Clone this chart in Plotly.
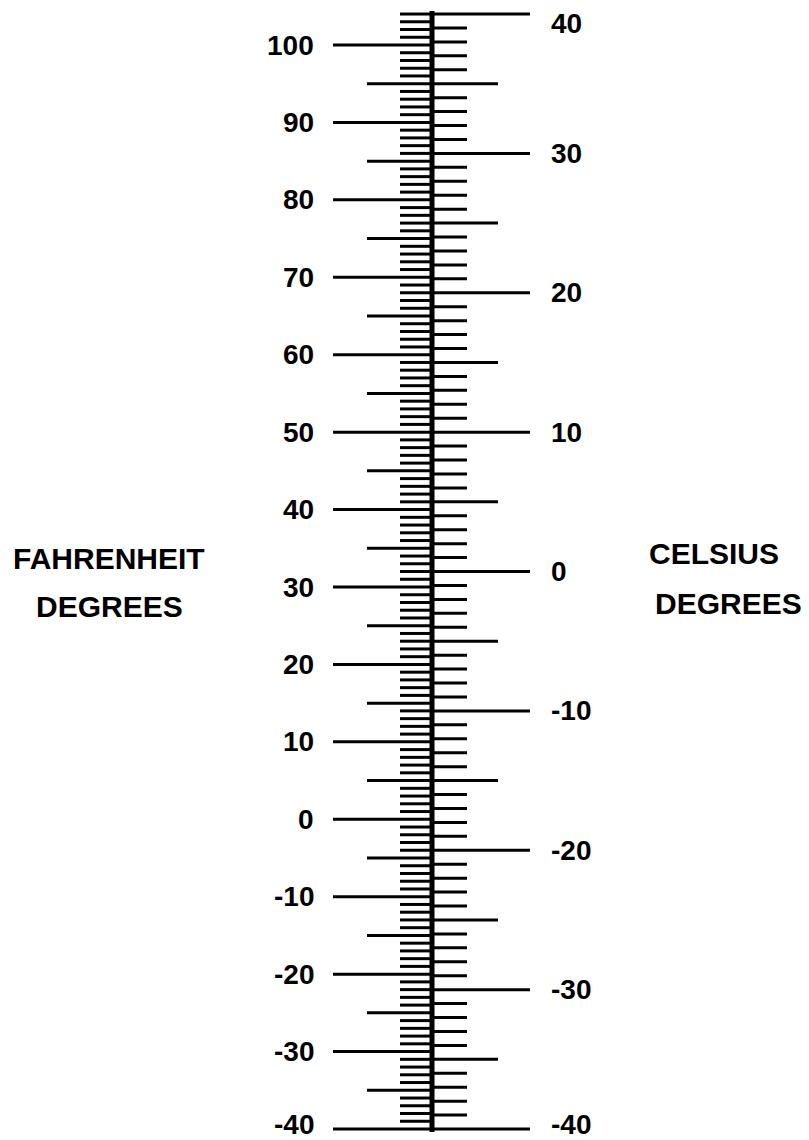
import plotly.graph_objects as go

# ---- data ----
fahrenheit_ticks = list(range(-40, 105))          # one tick per degree F
celsius_ticks = list(range(-40, 41))              # one tick per degree C
fahrenheit_labels = [100, 90, 80, 70, 60, 50, 40, 30, 20, 10, 0, -10, -20, -30, -40]
celsius_labels = [40, 30, 20, 10, 0, -10, -20, -30, -40]
left_title = ["FAHRENHEIT", "DEGREES"]
right_title = ["CELSIUS", "DEGREES"]


def c_to_f(c):
    return c * 9.0 / 5.0 + 32.0


# ---- layout geometry (page has an 8px body margin) ----
OFF = 8
W, H = 809 - OFF, 1140 - OFF
REF_F_HI, REF_F_LO = 100, -40
REF_PX_HI, REF_PX_LO = 45 - OFF, 1129 - OFF
scale = (REF_PX_LO - REF_PX_HI) / (REF_F_HI - REF_F_LO)
y_max = REF_F_HI + REF_PX_HI / scale
y_min = REF_F_LO - (H - REF_PX_LO) / scale

AXIS_X = 432
LEFT_LEN = {10: 333, 5: 367, 1: 400}
RIGHT_LEN = {10: 530, 5: 498, 1: 467}

fig = go.Figure()

# left (Fahrenheit) ticks
lx, ly = [], []
for f in fahrenheit_ticks:
    key = 10 if f % 10 == 0 else (5 if f % 5 == 0 else 1)
    lx += [LEFT_LEN[key], AXIS_X, None]
    ly += [f, f, None]
fig.add_trace(go.Scatter(x=lx, y=ly, mode="lines",
                         line=dict(color="black", width=3), hoverinfo="skip"))

# right (Celsius) ticks
rx, ry = [], []
for c in celsius_ticks:
    key = 10 if c % 10 == 0 else (5 if c % 5 == 0 else 1)
    fv = c_to_f(c)
    rx += [AXIS_X, RIGHT_LEN[key], None]
    ry += [fv, fv, None]
fig.add_trace(go.Scatter(x=rx, y=ry, mode="lines",
                         line=dict(color="black", width=3), hoverinfo="skip"))

# central spine
fig.add_trace(go.Scatter(x=[AXIS_X, AXIS_X],
                         y=[max(fahrenheit_ticks) + 0.4, min(fahrenheit_ticks) - 0.4],
                         mode="lines", line=dict(color="black", width=5), hoverinfo="skip"))

FONT = dict(family="Liberation Sans, Arial, sans-serif", size=28, color="black")
TFONT = dict(family="Liberation Sans, Arial, sans-serif", size=30, color="black")


def edge_shift(v, lo, hi):
    if v == hi:
        return -9
    if v == lo:
        return 5
    return 0


annotations = []
for f in fahrenheit_labels:
    annotations.append(dict(x=316, y=f, xref="x", yref="y", text=f"<b>{f}</b>",
                            showarrow=False, xanchor="right", yanchor="middle", font=FONT,
                            yshift=5 if f == min(fahrenheit_labels) else 0))
for c in celsius_labels:
    annotations.append(dict(x=549, y=c_to_f(c), xref="x", yref="y", text=f"<b>{c}</b>",
                            showarrow=False, xanchor="left", yanchor="middle", font=FONT,
                            yshift=edge_shift(c, min(celsius_labels), max(celsius_labels))))

for txt, px, py in [(left_title[0], 109, 558), (left_title[1], 109, 606),
                    (right_title[0], 714, 553), (right_title[1], 728, 603)]:
    annotations.append(dict(x=(px - OFF) / W, y=1 - (py - OFF) / H, xref="paper", yref="paper",
                            text=f"<b>{txt}</b>", showarrow=False,
                            xanchor="center", yanchor="middle", font=TFONT))

fig.update_layout(
    width=W, height=H,
    margin=dict(l=0, r=0, t=0, b=0),
    paper_bgcolor="white", plot_bgcolor="white",
    showlegend=False,
    xaxis=dict(range=[OFF, W + OFF], visible=False, fixedrange=True),
    yaxis=dict(range=[y_min, y_max], visible=False, fixedrange=True),
    annotations=annotations,
)

fig.write_html("out.html")
